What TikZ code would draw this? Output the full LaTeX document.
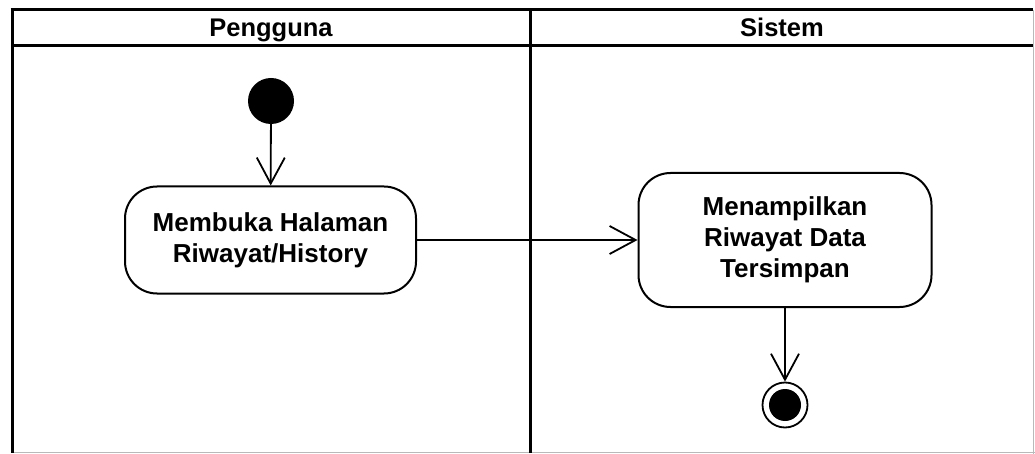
\documentclass[tikz,border=0pt]{standalone}
\usepackage{fontspec}
\setmainfont{Liberation Sans}
\usetikzlibrary{arrows.meta}
\begin{document}
\begin{tikzpicture}[x=1pt,y=-1pt,
  lane/.style={line width=3pt},
  edge/.style={gray!55, line width=1pt},
  act/.style={draw, line width=2pt, rounded corners=32pt, align=center,
    font=\bfseries\fontsize{26}{31}\selectfont, inner sep=0pt},
  hdr/.style={font=\bfseries\fontsize{25.5}{30}\selectfont, inner sep=0pt, anchor=base},
  flow/.style={line width=1.8pt,
    -{Straight Barb[length=26pt,width=28pt,line width=1.8pt]}},
  initial/.style={circle, fill=black, minimum size=46pt, inner sep=0pt},
  final/.style={circle, draw, line width=1.8pt, minimum size=45pt, inner sep=0pt}
]
\useasboundingbox (0,0) rectangle (1035,454);
\fill[white] (0,0) rectangle (1035,454);

% swimlane frame
\draw[edge] (1033,10) -- (1033,454) (12,452.5) -- (1035,452.5);
\draw[lane] (10.5,10) -- (1033,10) (12,46) -- (1033,46)
            (12,8.5) -- (12,453) (530,10) -- (530,453);

% lane headers
\node[hdr] (pengguna) at (271,37) {Pengguna};
\node[hdr] (sistem) at (782,37) {Sistem};

% activities
\node[initial] (start) at (271,101) {};
\node[act, minimum width=291pt, minimum height=107pt] (buka) at (270.5,240)
  {Membuka Halaman\\Riwayat/History};
\node[act, minimum width=293pt, minimum height=134pt] (tampil) at (785,240)
  {Menampilkan\\Riwayat Data\\Tersimpan};
\node[final] (end) at (785,405) {};
\fill[black] (end.center) circle (16pt);

% control flow
\draw[flow] (start) -- (buka);
\draw[flow] (buka) -- (tampil);
\draw[flow] (tampil) -- (end);
\end{tikzpicture}
\end{document}
